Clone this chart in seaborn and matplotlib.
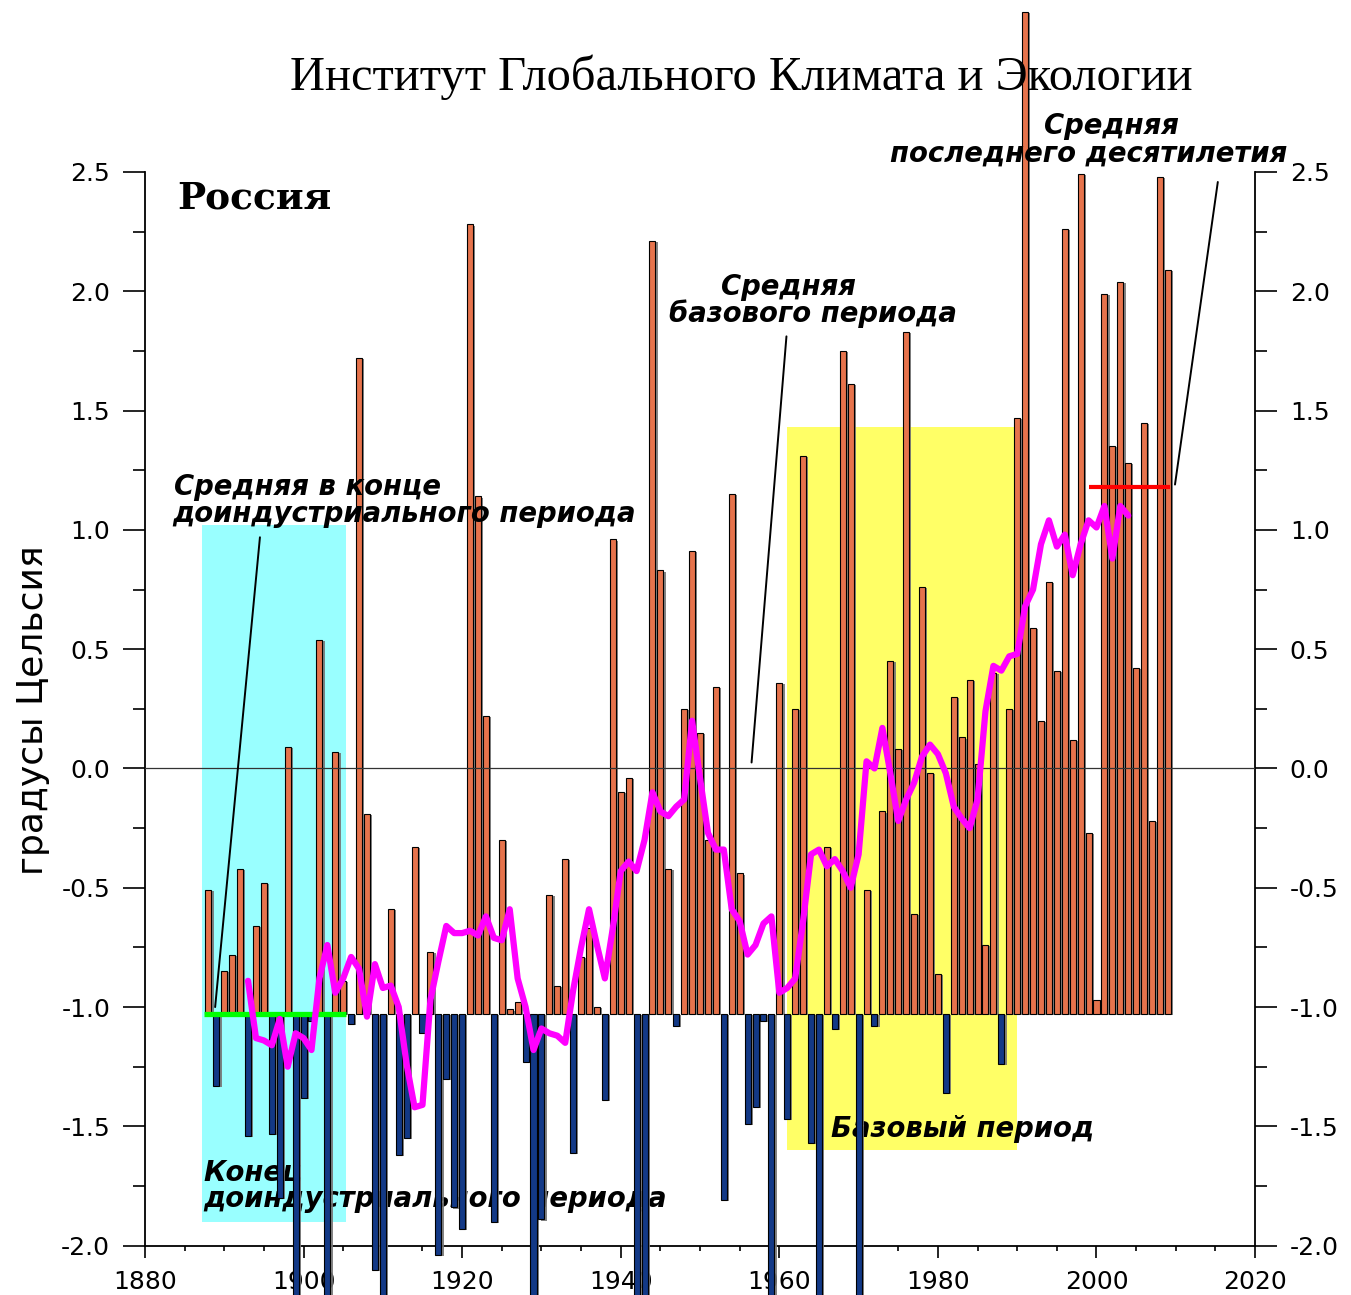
import numpy as np
import pandas as pd
import matplotlib
matplotlib.use("Agg")
import matplotlib.pyplot as plt
import matplotlib.patheffects as pe
from matplotlib.ticker import MultipleLocator, FormatStrFormatter
import seaborn as sns

# ---------------- data ----------------
years = list(range(1888, 2010))
temp_anomaly = [
    -0.51, -1.33, -0.85, -0.78, -0.42, -1.54, -0.66, -0.48, -1.53, -1.80,   # 1888-1897
     0.09, -3.10, -1.38, -1.06,  0.54, -2.60,  0.07, -0.89, -1.07,  1.72,   # 1898-1907
    -0.19, -2.10, -2.50, -0.59, -1.62, -1.55, -0.33, -1.11, -0.77, -2.04,   # 1908-1917
    -1.30, -1.84, -1.93,  2.28,  1.14,  0.22, -1.90, -0.30, -1.01, -0.98,   # 1918-1927
    -1.23, -2.60, -1.89, -0.53, -0.91, -0.38, -1.61, -0.79, -0.67, -1.00,   # 1928-1937
    -1.39,  0.96, -0.10, -0.04, -2.50, -2.50,  2.21,  0.83, -0.42, -1.08,   # 1938-1947
     0.25,  0.91,  0.15, -0.30,  0.34, -1.81,  1.15, -0.44, -1.49, -1.42,   # 1948-1957
    -1.06, -2.50,  0.36, -1.47,  0.25,  1.31, -1.57, -2.50, -0.33, -1.09,   # 1958-1967
     1.75,  1.61, -2.50, -0.51, -1.08, -0.18,  0.45,  0.08,  1.83, -0.61,   # 1968-1977
     0.76, -0.02, -0.86, -1.36,  0.30,  0.13,  0.37,  0.02, -0.74,  0.40,   # 1978-1987
    -1.24,  0.25,  1.47,  3.17,  0.59,  0.20,  0.78,  0.41,  2.26,  0.12,   # 1988-1997
     2.49, -0.27, -0.97,  1.99,  1.35,  2.04,  1.28,  0.42,  1.45, -0.22,   # 1998-2007
     2.48,  2.09,                                                           # 2008-2009
]
assert len(temp_anomaly) == len(years)

smooth_years = list(range(1893, 2005))
smooth_values = [
    -0.89, -1.13, -1.14, -1.16, -1.05, -1.25, -1.11, -1.13, -1.18, -0.88,   # 1893-1902
    -0.74, -0.94, -0.88, -0.79, -0.84, -1.04, -0.82, -0.92, -0.91, -1.00,   # 1903-1912
    -1.24, -1.42, -1.41, -0.97, -0.81, -0.66, -0.69, -0.69, -0.68, -0.70,   # 1913-1922
    -0.62, -0.71, -0.72, -0.59, -0.88, -1.00, -1.18, -1.09, -1.11, -1.12,   # 1923-1932
    -1.15, -0.93, -0.75, -0.59, -0.74, -0.88, -0.67, -0.43, -0.39, -0.43,   # 1933-1942
    -0.30, -0.10, -0.18, -0.20, -0.16, -0.13,  0.20, -0.04, -0.27, -0.34,   # 1943-1952
    -0.34, -0.59, -0.64, -0.78, -0.74, -0.65, -0.62, -0.94, -0.92, -0.88,   # 1953-1962
    -0.64, -0.36, -0.34, -0.41, -0.38, -0.43, -0.50, -0.36,  0.03,  0.00,   # 1963-1972
     0.17, -0.02, -0.22, -0.13, -0.06,  0.05,  0.10,  0.06, -0.02, -0.16,   # 1973-1982
    -0.21, -0.25, -0.13,  0.24,  0.43,  0.41,  0.47,  0.48,  0.68,  0.75,   # 1983-1992
     0.94,  1.04,  0.93,  0.98,  0.81,  0.94,  1.04,  1.01,  1.10,  0.88,   # 1993-2002
     1.10,  1.06,                                                           # 2003-2004
]
assert len(smooth_values) == len(smooth_years)

preind_mean = -1.03
preind_span = [1887.5, 1905.3]
preind_box_x = [1887.2, 1905.4]
preind_box_y = [-1.90, 1.02]
base_box_x = [1961.0, 1990.0]
base_box_y = [-1.60, 1.43]
last_decade_mean = 1.18
last_decade_span = [1999.0, 2009.3]

# ---------------- style ----------------
sns.set_style("ticks")
plt.rcParams["font.family"] = ["DejaVu Sans"]
plt.rcParams["axes.unicode_minus"] = False
plt.rcParams["text.color"] = "black"
plt.rcParams["xtick.color"] = "black"
plt.rcParams["ytick.color"] = "black"
plt.rcParams["xtick.labelcolor"] = "black"
plt.rcParams["ytick.labelcolor"] = "black"

ORANGE = "#FF6633"
BLUE = "#003399"
CYAN = "#99FFFF"
YELLOW = "#FFFF66"
MAGENTA = "#FF00FF"

fig = plt.figure(figsize=(13.51, 12.95), dpi=100)
ax = fig.add_axes([0.1073, 0.0381, 0.8217, 0.8291])

# shaded periods
ax.fill_between(preind_box_x, preind_box_y[0], preind_box_y[1], color=CYAN, lw=0, zorder=0.5)
ax.fill_between(base_box_x, base_box_y[0], base_box_y[1], color=YELLOW, lw=0, zorder=0.5)

# bars from the pre-industrial mean
df = pd.DataFrame({"year": years, "value": temp_anomaly})
df["height"] = df["value"] - preind_mean
df["sign"] = np.where(df["value"] >= preind_mean, "warm", "cold")
sns.barplot(data=df, x="year", y="height", hue="sign",
            palette={"warm": ORANGE, "cold": BLUE},
            native_scale=True, dodge=False, width=0.76, errorbar=None,
            legend=False, bottom=preind_mean, edgecolor="black", linewidth=0.8,
            clip_on=False, zorder=3, ax=ax,
            path_effects=[pe.SimplePatchShadow(offset=(1.6, -0.8), shadow_rgbFace="#777777", alpha=0.9),
                          pe.Normal()])

ax.axhline(0, color="#333333", lw=0.9, zorder=4)

# means
ax.hlines(preind_mean, preind_span[0], preind_span[1], color="#00FF00", lw=3.8, zorder=5)
ax.hlines(last_decade_mean, last_decade_span[0], last_decade_span[1], color="#FF0000", lw=3.0, zorder=5)

# running mean
sns.lineplot(x=smooth_years, y=smooth_values, color=MAGENTA, linewidth=4.5, ax=ax, zorder=6,
             solid_joinstyle="round", solid_capstyle="round")

# axes
ax.set_xlim(1880, 2020)
ax.set_ylim(-2.0, 2.5)
ax.set_xlabel("")
ax.set_ylabel("")
ax.xaxis.set_major_locator(MultipleLocator(20))
ax.xaxis.set_minor_locator(MultipleLocator(5))
ax.yaxis.set_major_locator(MultipleLocator(0.5))
ax.yaxis.set_minor_locator(MultipleLocator(0.25))
ax.yaxis.set_major_formatter(FormatStrFormatter("%.1f"))
for s in ["left", "right", "bottom"]:
    ax.spines[s].set_visible(True)
    ax.spines[s].set_linewidth(1.3)
    ax.spines[s].set_color("black")
ax.spines["top"].set_visible(False)
ax.tick_params(axis="y", which="major", length=16, width=1.2, direction="out",
               left=True, right=True, labelleft=True, labelright=True, labelsize=18, pad=9)
ax.tick_params(axis="y", which="minor", length=8.6, width=1.2, direction="out", left=True, right=True)
ax.tick_params(axis="x", which="major", length=8.6, width=1.2, direction="out", labelsize=18, pad=9)
ax.tick_params(axis="x", which="minor", length=3.6, width=1.2, direction="out")
ax.set_facecolor("white")

# texts
fig.text(0.5485, 0.9305, "Институт Глобального Климата и Экологии", ha="center", va="baseline",
         family="Liberation Serif", fontsize=34.9, color="black")
fig.text(0.0245, 0.4517, "градусы Цельсия", rotation=90, ha="center", va="center",
         family="DejaVu Sans", fontsize=26, color="black")
ax.text(1884.1, 2.345, "Россия", family="DejaVu Serif", fontweight="bold", fontsize=27,
        ha="left", va="baseline", zorder=7, color="black")

ann = dict(family="DejaVu Sans", fontweight="bold", style="italic", fontsize=19.8,
           ha="left", va="baseline", color="black")
ax.text(1883.7, 1.147, "Средняя в конце", zorder=7, **ann)
ax.text(1883.4, 1.032, "доиндустриального периода", zorder=7, **ann)
ax.text(1952.7, 1.985, "Средняя", zorder=7, **ann)
ax.text(1946.1, 1.871, "базового периода", zorder=7, **ann)
ax.text(1993.4, 2.660, "Средняя", zorder=7, clip_on=False, **ann)
ax.text(1973.9, 2.542, "последнего десятилетия", zorder=7, clip_on=False, **ann)
ax.text(1966.5, -1.544, "Базовый период", zorder=2, **ann)
ax.text(1887.4, -1.727, "Конец", zorder=2, **ann)
ax.text(1887.4, -1.837, "доиндустриального периода", zorder=2, **ann)

lp = dict(arrowstyle="-", color="black", lw=1.4, shrinkA=0, shrinkB=0)
ax.annotate("", xy=(1888.85, -1.0), xytext=(1894.5, 0.969), arrowprops=lp, zorder=7)
ax.annotate("", xy=(1956.5, 0.025), xytext=(1960.9, 1.811), arrowprops=lp, zorder=7)
ax.annotate("", xy=(2009.9, 1.19), xytext=(2015.3, 2.458), arrowprops=lp, zorder=7,
            annotation_clip=False)

fig.savefig("out.png", dpi=100, facecolor="white")
